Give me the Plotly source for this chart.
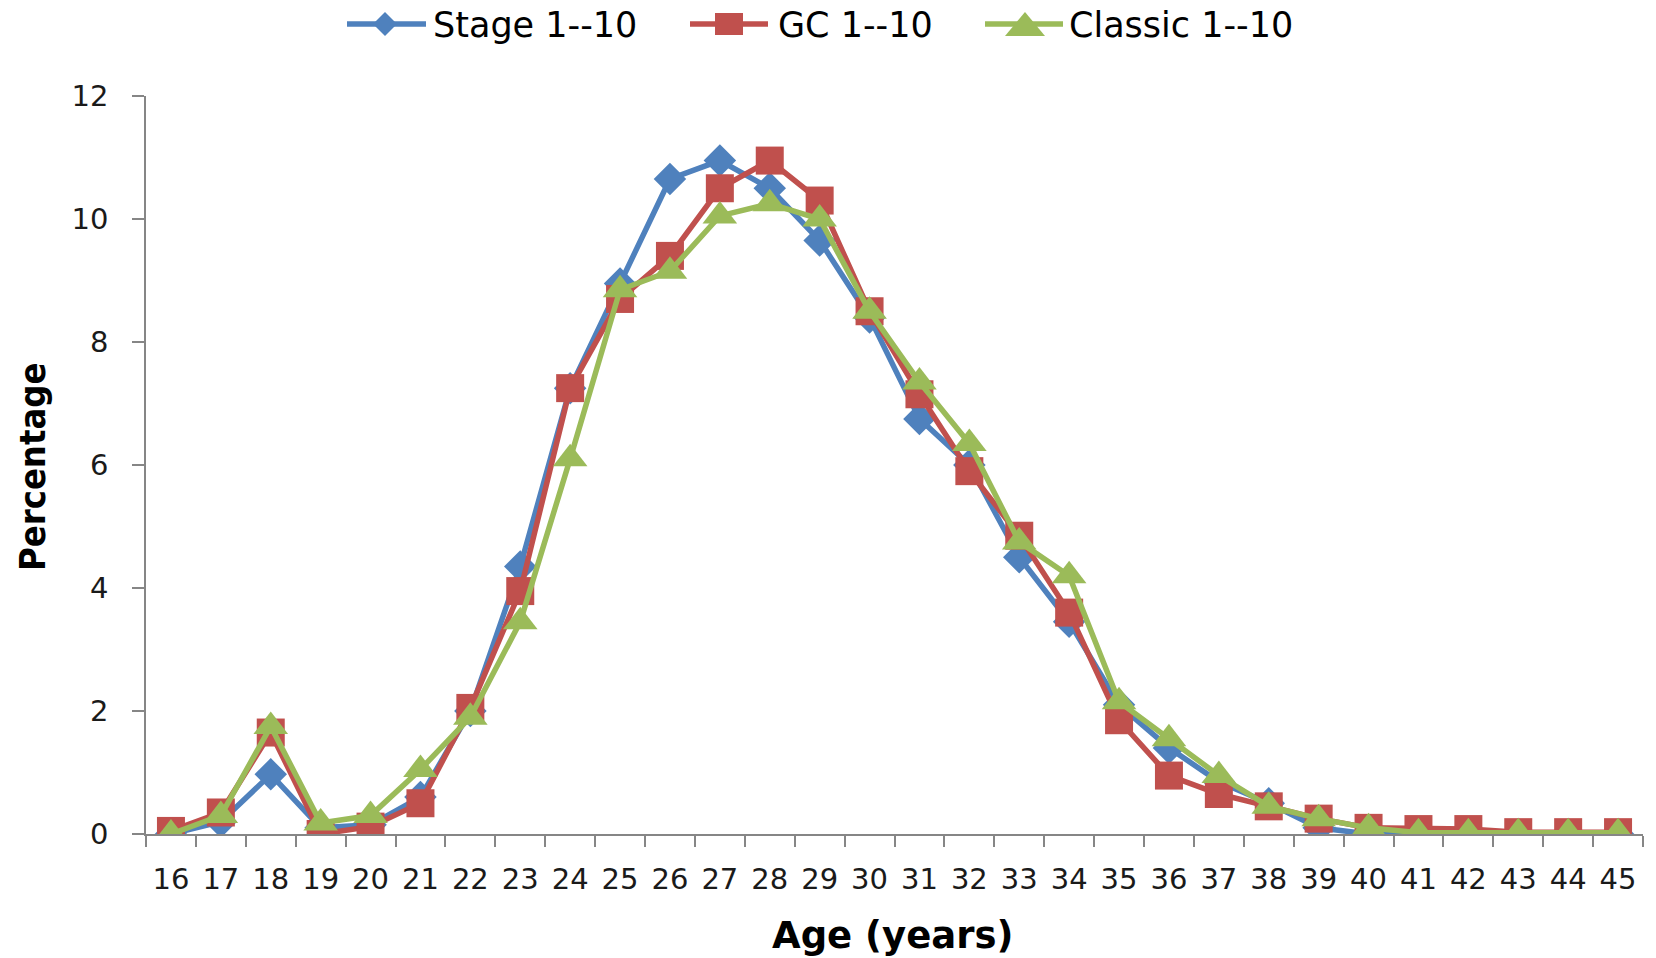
import plotly.graph_objects as go

ages = [str(a) for a in range(16, 46)]

stage = [0.0, 0.2, 0.97, 0.1, 0.15, 0.6, 2.0, 4.35, 7.25, 8.95, 10.65, 10.95, 10.5, 9.65,
         8.4, 6.75, 6.0, 4.5, 3.45, 2.1, 1.4, 0.85, 0.5, 0.1, 0.0, 0.0, 0.0, 0.0, 0.0, 0.0]
gc = [0.05, 0.35, 1.65, 0.0, 0.12, 0.5, 2.05, 3.95, 7.25, 8.7, 9.4, 10.5, 10.95, 10.3,
      8.5, 7.15, 5.9, 4.85, 3.6, 1.85, 0.95, 0.65, 0.45, 0.25, 0.1, 0.08, 0.08, 0.03, 0.03, 0.03]
classic = [0.0, 0.3, 1.75, 0.18, 0.3, 1.05, 1.9, 3.45, 6.1, 8.85, 9.15, 10.05, 10.25, 10.0,
           8.5, 7.35, 6.35, 4.75, 4.2, 2.15, 1.55, 0.95, 0.45, 0.25, 0.1, 0.02, 0.02, 0.02, 0.02, 0.02]

names = ["Stage 1--10", "GC 1--10", "Classic 1--10"]
colors = ["#4F81BD", "#C0504D", "#9BBB59"]
symbols = ["diamond", "square", "triangle-up"]
sizes = [25, 28, 30]

fig = go.Figure()
for name, vals, col, sym, sz in zip(names, [stage, gc, classic], colors, symbols, sizes):
    fig.add_trace(go.Scatter(
        x=ages, y=vals, name=name, mode="lines+markers",
        line=dict(color=col, width=5.5),
        marker=dict(symbol=sym, size=sz, color=col, line=dict(width=0)),
    ))

axis_gray = "#868686"
W, H = 1656, 958
L, R, T, B = 146, 13, 96, 124
pw, ph = W - L - R, H - T - B


def px(xp):
    return (xp - L) / pw


def py(yp):
    return (H - B - yp) / ph


# custom legend (line + glyph + label), positioned in pixels above the plot
shapes = []
annotations = []
leg_y = 24
leg_items = [
    # line x0, line x1, glyph center x, text x
    (347, 426, 385, 431),
    (690, 768, 729, 776),
    (985, 1063, 1025, 1067),
]
for (x0, x1, cx, tx), name, col, sym in zip(leg_items, names, colors, symbols):
    shapes.append(dict(type="line", xref="paper", yref="paper",
                       x0=px(x0), x1=px(x1), y0=py(leg_y), y1=py(leg_y),
                       line=dict(color=col, width=5.5)))
    if sym == "diamond":
        pts = [(cx, leg_y - 12), (cx + 12, leg_y), (cx, leg_y + 12), (cx - 12, leg_y)]
    elif sym == "square":
        pts = [(cx - 14, leg_y - 11), (cx + 14, leg_y - 11), (cx + 14, leg_y + 11), (cx - 14, leg_y + 11)]
    else:
        pts = [(cx, leg_y - 12), (cx + 20, leg_y + 12), (cx - 20, leg_y + 12)]
    path = "M" + " L".join(f"{px(a):.5f},{py(b):.5f}" for a, b in pts) + " Z"
    shapes.append(dict(type="path", xref="paper", yref="paper", path=path,
                       fillcolor=col, line=dict(width=0)))
    annotations.append(dict(text=name, xref="paper", yref="paper",
                            x=px(tx), y=py(leg_y + 1), xanchor="left", yanchor="middle",
                            showarrow=False,
                            font=dict(family="DejaVu Sans", size=35, color="black")))

annotations += [
    dict(text="<b>Percentage</b>", xref="paper", yref="paper",
         x=px(32), y=py(467), xanchor="center", yanchor="middle",
         textangle=-90, showarrow=False,
         font=dict(family="DejaVu Sans Condensed", size=36, color="black")),
    dict(text="<b>Age (years)</b>", xref="paper", yref="paper",
         x=px(892), y=py(935), xanchor="center", yanchor="middle",
         showarrow=False,
         font=dict(family="DejaVu Sans", size=37, color="black")),
]

fig.update_layout(
    width=W, height=H,
    margin=dict(l=L, r=R, t=T, b=B, autoexpand=False),
    paper_bgcolor="white", plot_bgcolor="white",
    showlegend=False,
    xaxis=dict(
        type="category", range=[-0.5, 29.5], tickson="boundaries",
        ticks="outside", ticklen=11, tickcolor=axis_gray, tickwidth=1.5,
        showline=True, linecolor=axis_gray, linewidth=1.5,
        showgrid=False, zeroline=False,
        tickfont=dict(family="DejaVu Sans", size=29, color="#1a1a1a"),
        ticklabelstandoff=18,
    ),
    yaxis=dict(
        range=[0, 12], dtick=2, ticks="outside", ticklen=12, tickcolor=axis_gray, tickwidth=1.5,
        showline=True, linecolor=axis_gray, linewidth=1.5,
        showgrid=False, zeroline=False,
        tickfont=dict(family="DejaVu Sans", size=29, color="#1a1a1a"),
        ticklabelstandoff=18,
    ),
    shapes=shapes,
    annotations=annotations,
)

fig.write_html("out.html")
